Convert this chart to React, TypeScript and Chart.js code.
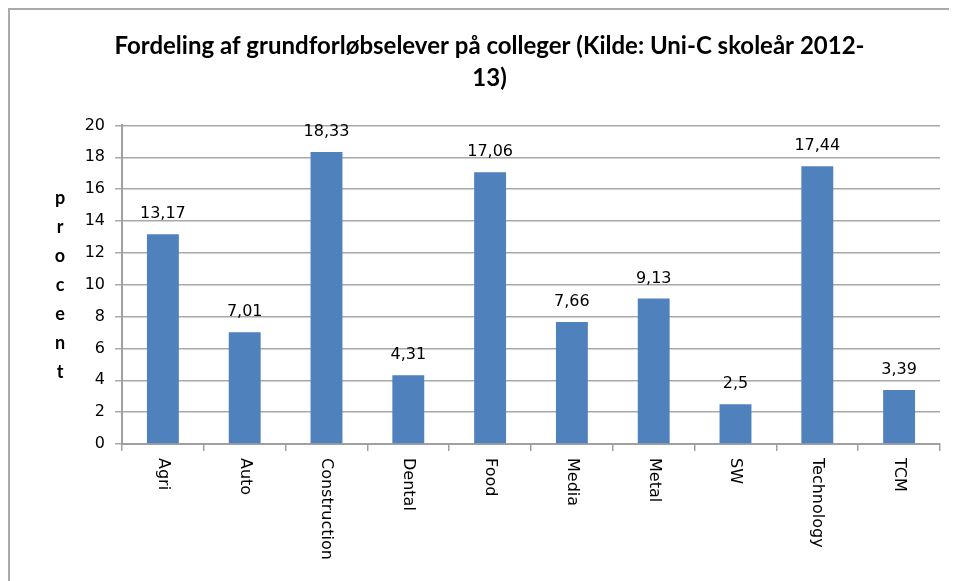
import React, { useEffect, useRef } from 'react';
import { Chart, registerables } from 'chart.js';

Chart.register(...registerables);

const categories = ['Agri', 'Auto', 'Construction', 'Dental', 'Food', 'Media', 'Metal', 'SW', 'Technology', 'TCM'];
const values = [13.17, 7.01, 18.33, 4.31, 17.06, 7.66, 9.13, 2.5, 17.44, 3.39];
const titleLines = ['Fordeling af grundforløbselever på colleger (Kilde: Uni-C skoleår 2012-', '13)'];
const yAxisTitle = 'procent';
const yMin = 0;
const yMax = 20;
const yStep = 2;

const fmt = (v: number) => String(v).replace('.', ',');

const customPlugin = {
  id: 'customLabels',
  afterDatasetsDraw(chart: any) {
    const ctx = chart.ctx;
    const meta = chart.getDatasetMeta(0);
    ctx.save();
    ctx.fillStyle = '#000';
    // data labels
    ctx.font = '16px "DejaVu Sans"';
    ctx.textAlign = 'center';
    ctx.textBaseline = 'alphabetic';
    meta.data.forEach((bar: any, i: number) => {
      ctx.fillText(fmt(values[i]), bar.x, bar.y - 16);
    });
    // x labels rotated clockwise
    const xs = chart.scales.x;
    ctx.textAlign = 'left';
    ctx.textBaseline = 'middle';
    categories.forEach((c, i) => {
      const x = xs.getPixelForValue(i);
      ctx.save();
      ctx.translate(x, xs.top + 14);
      ctx.rotate(Math.PI / 2);
      ctx.fillText(c, 0, 0);
      ctx.restore();
    });
    // stacked y title
    const ca = chart.chartArea;
    const mid = (ca.top + ca.bottom) / 2;
    const gap = 29;
    const letters = yAxisTitle.split('');
    ctx.font = 'bold 18px Lato';
    ctx.textAlign = 'center';
    ctx.textBaseline = 'middle';
    letters.forEach((ch, i) => {
      ctx.fillText(ch, 50, mid + (i - (letters.length - 1) / 2) * gap);
    });
    ctx.restore();
  },
};

export default function App() {
  const ref = useRef<HTMLCanvasElement | null>(null);
  useEffect(() => {
    if (!ref.current) return;
    const chart = new Chart(ref.current, {
      type: 'bar',
      data: {
        labels: categories,
        datasets: [
          {
            data: values,
            backgroundColor: '#4F81BD',
            borderWidth: 0,
            categoryPercentage: 1,
            barPercentage: 0.39,
          },
        ],
      },
      options: {
        animation: false,
        responsive: true,
        maintainAspectRatio: false,
        layout: { padding: { left: 29, right: 17, top: 0, bottom: 0 } },
        plugins: {
          legend: { display: false },
          tooltip: { enabled: false },
          title: {
            display: true,
            text: titleLines,
            color: '#000',
            font: { family: 'Lato', size: 24, weight: 'bold', lineHeight: 1.3 },
            padding: { top: 21, bottom: 32 },
          },
        },
        scales: {
          x: {
            ticks: { display: false },
            grid: {
              display: true,
              drawOnChartArea: false,
              drawTicks: true,
              tickLength: 7,
              color: '#a0a0a0',
              lineWidth: 1.5,
              offset: true,
            },
            border: { color: '#a0a0a0', width: 2 },
            afterFit: (s: any) => {
              s.height = 137;
            },
          },
          y: {
            min: yMin,
            max: yMax,
            ticks: {
              stepSize: yStep,
              color: '#000',
              font: { family: 'DejaVu Sans', size: 16 },
              padding: 10,
            },
            grid: {
              color: '#a8a8a8',
              lineWidth: 1.5,
              drawTicks: true,
              tickLength: 7,
            },
            border: { color: '#a0a0a0', width: 2 },
            afterFit: (s: any) => {
              s.width = 83;
            },
          },
        },
      },
      plugins: [customPlugin],
    } as any);
    return () => chart.destroy();
  }, []);
  return (
    <div
      style={{
        width: 949,
        height: 573,
        borderTop: '2px solid #aaa',
        borderLeft: '2px solid #aaa',
        boxSizing: 'border-box',
        position: 'relative',
      }}
    >
      <canvas ref={ref} />
    </div>
  );
}
